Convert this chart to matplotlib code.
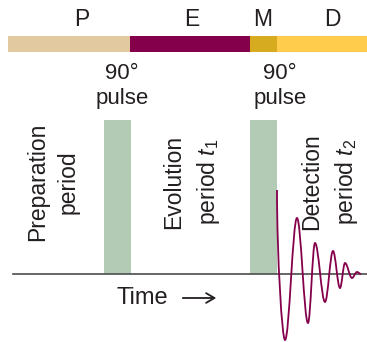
import matplotlib
matplotlib.use("Agg")
import matplotlib.pyplot as plt
from matplotlib.path import Path
from matplotlib.patches import PathPatch

plt.rcParams['font.family'] = ['Liberation Sans', 'DejaVu Sans']
plt.rcParams['mathtext.fontset'] = 'custom'
plt.rcParams['mathtext.rm'] = 'Liberation Sans'
plt.rcParams['mathtext.it'] = 'Liberation Sans:italic'

# pulse sequence phases (time units = picture columns)
phase_labels = ["P", "E", "M", "D"]
phase_edges = [8, 130, 250, 277, 367]
phase_label_x = [82, 192, 263, 332]
phase_colors = ["#E3C99F", "#85004B", "#D6AB1F", "#FFCC4C"]

# two 90 degree pulses
pulse_start = [104, 250]
pulse_end = [131, 277]
pulse_label_x = [122, 280]

# periods written vertically
period_labels = ["Preparation\nperiod", "Evolution\nperiod $t_1$", "Detection\nperiod $t_2$"]
period_x = [53, 192, 330]

# free induction decay: extrema (time, amplitude above baseline)
fid_t = [277, 285, 297, 308, 315, 325, 333, 340, 345, 352, 357, 361]
fid_amp = [84, -66, 56, -49, 31, -28, 23, -14, 11, -4, 2, 0]

text_col = "#231F20"
maroon = "#85004B"

fig = plt.figure(figsize=(3.67, 3.42), dpi=100)
ax = fig.add_axes([0, 0, 1, 1])
ax.set_xlim(0, 367)
ax.set_ylim(342, 0)
ax.axis("off")

base = 274
bar_top, bar_bot = 36, 52

for i, lab in enumerate(phase_labels):
    ax.fill_between([phase_edges[i], phase_edges[i + 1]], bar_top, bar_bot,
                    color=phase_colors[i], lw=0)
    ax.text(phase_label_x[i], 20, lab, ha="center", va="center",
            fontsize=16.5, color=text_col)

for s, e, lx in zip(pulse_start, pulse_end, pulse_label_x):
    ax.fill_between([s, e], 120, base, color="#B3CBB5", lw=0)
    ax.text(lx, 86, "90°\npulse", ha="center", va="center", fontsize=16,
            color=text_col, linespacing=1.25)

for lab, x in zip(period_labels, period_x):
    ax.text(x, 182, lab, ha="center", va="center", rotation=90,
            multialignment="center", fontsize=16.5, color=text_col,
            linespacing=1.45)

ax.plot([13, 367], [base, base], color="#4D4D4D", lw=1.2, zorder=3)

ax.text(142, 298, "Time", ha="center", va="center", fontsize=17, color=text_col)
ax.annotate("", xy=(219, 298), xytext=(180, 298),
            arrowprops=dict(arrowstyle="->,head_length=0.6,head_width=0.35",
                            color=text_col, lw=1.3))

# FID drawn as cubic Bezier segments between the extrema
ys = [base - a for a in fid_amp]
verts = [(fid_t[0], ys[0])]
codes = [Path.MOVETO]
for i in range(len(fid_t) - 1):
    x0, y0, x1, y1 = fid_t[i], ys[i], fid_t[i + 1], ys[i + 1]
    d = 0.36 * (x1 - x0)
    if i == 0:
        c1 = (x0, y0 + 0.45 * (y1 - y0))
    else:
        c1 = (x0 + d, y0)
    verts += [c1, (x1 - d, y1), (x1, y1)]
    codes += [Path.CURVE4] * 3
ax.add_patch(PathPatch(Path(verts, codes), fill=False, edgecolor=maroon,
                       lw=1.3, zorder=4))

fig.savefig("out.png", dpi=100)
